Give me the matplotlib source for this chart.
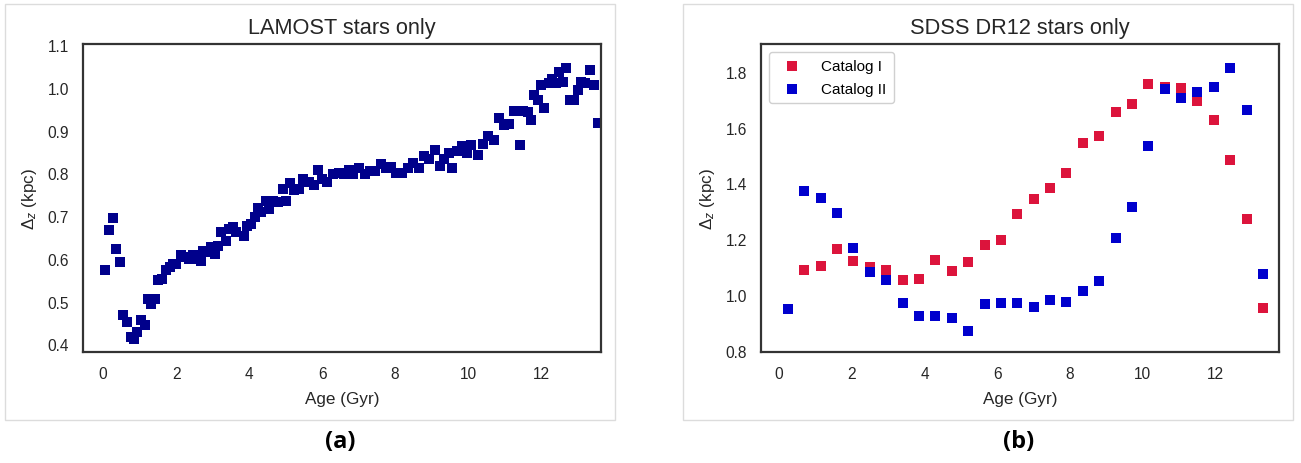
import matplotlib
matplotlib.use("Agg")
import matplotlib.pyplot as plt
from matplotlib.patches import Rectangle

plt.rcParams['font.family'] = ['Liberation Sans', 'DejaVu Sans']
plt.rcParams['mathtext.fontset'] = 'custom'
plt.rcParams['mathtext.rm'] = 'Liberation Sans'
plt.rcParams['mathtext.it'] = 'Liberation Sans:italic'

# --- (a) LAMOST stars only ---
lamost_age = [0.06, 0.15, 0.26, 0.35, 0.46, 0.55, 0.65, 0.76, 0.85, 0.94,
              1.05, 1.15, 1.23, 1.32, 1.41, 1.51, 1.62, 1.72, 1.82, 1.92,
              2.01, 2.13, 2.24, 2.35, 2.47, 2.56, 2.67, 2.75, 2.84, 2.96,
              3.06, 3.15, 3.24, 3.36, 3.45, 3.55, 3.65, 3.85, 3.95, 4.04,
              4.15, 4.24, 4.33, 4.45, 4.55, 4.66, 4.79, 4.93, 5.02, 5.12,
              5.23, 5.38, 5.49, 5.63, 5.78, 5.88, 6.00, 6.14, 6.31, 6.45,
              6.60, 6.75, 6.86, 7.02, 7.17, 7.32, 7.45, 7.60, 7.74, 7.88,
              8.02, 8.19, 8.34, 8.48, 8.65, 8.79, 8.93, 9.10, 9.22, 9.33,
              9.48, 9.57, 9.70, 9.84, 9.98, 10.09, 10.26, 10.41, 10.55, 10.70,
              10.84, 10.98, 11.12, 11.26, 11.41, 11.49, 11.64, 11.72, 11.80, 11.91,
              12.00, 12.09, 12.21, 12.30, 12.40, 12.48, 12.59, 12.68, 12.80, 12.91,
              13.00, 13.08, 13.20, 13.34, 13.46, 13.55]
lamost_dz = [0.573, 0.668, 0.695, 0.623, 0.592, 0.468, 0.453, 0.418, 0.412, 0.429,
             0.457, 0.445, 0.505, 0.495, 0.507, 0.551, 0.553, 0.573, 0.581, 0.588,
             0.588, 0.608, 0.604, 0.600, 0.608, 0.600, 0.596, 0.619, 0.615, 0.627,
             0.612, 0.631, 0.662, 0.643, 0.670, 0.674, 0.662, 0.654, 0.678, 0.681,
             0.697, 0.720, 0.709, 0.736, 0.716, 0.736, 0.733, 0.763, 0.736, 0.778,
             0.761, 0.763, 0.786, 0.780, 0.774, 0.808, 0.786, 0.780, 0.798, 0.802,
             0.798, 0.808, 0.798, 0.813, 0.798, 0.805, 0.805, 0.821, 0.813, 0.815,
             0.802, 0.800, 0.813, 0.825, 0.813, 0.840, 0.833, 0.856, 0.817, 0.833,
             0.848, 0.813, 0.852, 0.864, 0.848, 0.867, 0.844, 0.870, 0.887, 0.878,
             0.929, 0.914, 0.916, 0.945, 0.867, 0.945, 0.943, 0.926, 0.984, 0.972,
             1.007, 0.953, 1.011, 1.022, 1.011, 1.038, 1.015, 1.046, 0.972, 0.972,
             0.995, 1.015, 1.011, 1.042, 1.007, 0.919]

# --- (b) SDSS DR12 stars only ---
cat1_age = [0.70, 1.15, 1.60, 2.05, 2.50, 2.95, 3.40, 3.85, 4.30, 4.75,
            5.20, 5.65, 6.10, 6.55, 7.00, 7.45, 7.90, 8.35, 8.80, 9.25,
            9.70, 10.15, 10.60, 11.05, 11.50, 11.95, 12.40, 12.85, 13.30]
cat1_dz = [1.091, 1.105, 1.166, 1.121, 1.100, 1.090, 1.054, 1.057, 1.127, 1.088,
           1.119, 1.178, 1.197, 1.290, 1.346, 1.385, 1.439, 1.544, 1.572, 1.657,
           1.685, 1.756, 1.745, 1.741, 1.697, 1.629, 1.484, 1.271, 0.952]
cat2_age = [0.25, 0.70, 1.15, 1.60, 2.05, 2.50, 2.95, 3.40, 3.85, 4.30,
            4.75, 5.20, 5.65, 6.10, 6.55, 7.00, 7.45, 7.90, 8.35, 8.80,
            9.25, 9.70, 10.15, 10.60, 11.05, 11.50, 11.95, 12.40, 12.85, 13.30]
cat2_dz = [0.951, 1.373, 1.348, 1.296, 1.169, 1.082, 1.054, 0.971, 0.925, 0.926,
           0.919, 0.872, 0.967, 0.971, 0.973, 0.957, 0.982, 0.977, 1.014, 1.051,
           1.204, 1.317, 1.535, 1.739, 1.706, 1.729, 1.747, 1.815, 1.665, 1.075]

fig = plt.figure(figsize=(13.01, 4.64), dpi=100)
fig.patch.set_facecolor('white')

# light frames round each panel
for x0 in (5, 683):
    fig.patches.append(Rectangle((x0 / 1301, 1 - 421 / 464), 610 / 1301, 416 / 464,
                                 transform=fig.transFigure, fill=False,
                                 edgecolor='#dcdcdc', linewidth=1.0))

ax1 = fig.add_axes([83 / 1301, 1 - 353 / 464, 518 / 1301, 308 / 464])
ax2 = fig.add_axes([761 / 1301, 1 - 353 / 464, 518 / 1301, 308 / 464])

ax1.scatter(lamost_age, lamost_dz, marker='s', s=55, color='#00008B', linewidths=0)
ax1.set_xlim(-0.55, 13.64)
ax1.set_ylim(0.382, 1.103)
ax1.set_xticks([0, 2, 4, 6, 8, 10, 12])
ax1.set_yticks([0.4, 0.5, 0.6, 0.7, 0.8, 0.9, 1.0, 1.1])
ax1.set_title('LAMOST stars only', fontsize=15.7, color='#262626', pad=8)

ax2.scatter(cat1_age, cat1_dz, marker='s', s=55, color='#DC143C', linewidths=0,
            label='Catalog I')
ax2.scatter(cat2_age, cat2_dz, marker='s', s=55, color='#0000CD', linewidths=0,
            label='Catalog II')
ax2.set_xlim(-0.49, 13.74)
ax2.set_ylim(0.796, 1.90)
ax2.set_xticks([0, 2, 4, 6, 8, 10, 12])
ax2.set_yticks([0.8, 1.0, 1.2, 1.4, 1.6, 1.8])
ax2.set_title('SDSS DR12 stars only', fontsize=15.7, color='#262626', pad=8)
ax2.legend(loc='upper left', fontsize=11, handletextpad=0.95, borderpad=0.5,
           labelspacing=0.55, frameon=True, edgecolor='#d0d0d0', framealpha=1)

for ax in (ax1, ax2):
    ax.set_xlabel('Age (Gyr)', fontsize=12.3, color='#262626', labelpad=7)
    ax.set_ylabel(r'$\Delta_z$ (kpc)', fontsize=12.3, color='#262626', labelpad=6)
    ax.tick_params(axis='both', length=0, labelsize=11.2, labelcolor='#262626', pad=10)
    for sp in ax.spines.values():
        sp.set_color('#333333')
        sp.set_linewidth(1.6)

fig.text(340 / 1301, 1 - 442 / 464, '(a)', fontsize=17, fontweight='bold',
         ha='center', va='center', family=['Open Sans', 'DejaVu Sans'])
fig.text(1019 / 1301, 1 - 442 / 464, '(b)', fontsize=17, fontweight='bold',
         ha='center', va='center', family=['Open Sans', 'DejaVu Sans'])

fig.savefig('out.png', dpi=100)
